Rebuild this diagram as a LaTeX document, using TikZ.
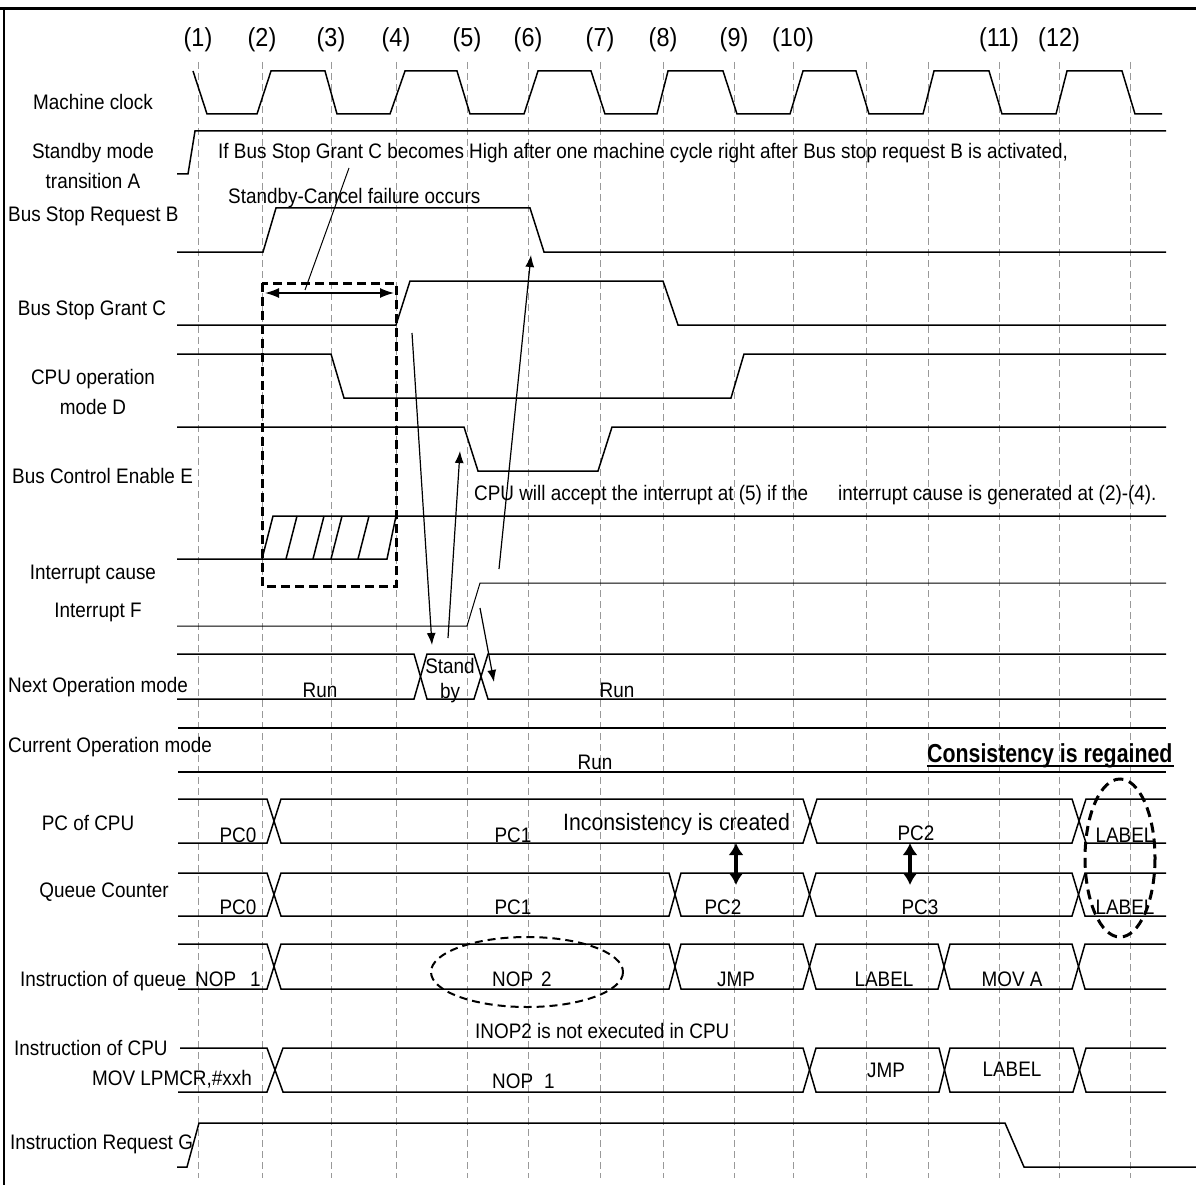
\documentclass[tikz,border=0pt]{standalone}
\usepackage{fontspec}
\setmainfont[FakeStretch=0.9]{Liberation Sans}
\newfontfamily\boldcond[FakeStretch=0.82]{Liberation Sans}
\usetikzlibrary{arrows.meta}
\begin{document}
\begin{tikzpicture}[x=1pt,y=-1pt,
  sig/.style={line width=1.5pt, line join=miter},
  thinsig/.style={line width=1pt},
  gridl/.style={black!40, line width=1pt, dash pattern=on 7pt off 4pt},
  txt/.style={inner sep=0pt, anchor=base, font=\fontsize{21}{24}\selectfont},
  txtw/.style={txt, anchor=base west},
  num/.style={inner sep=0pt, anchor=base, font=\fontsize{26}{28}\selectfont},
  arr/.style={line width=1.2pt, -{Latex[length=12pt,width=9pt]}},
  darr/.style={line width=1.5pt, {Latex[length=14pt,width=10pt]}-{Latex[length=14pt,width=10pt]}},
  thickarr/.style={line width=4pt, {Latex[length=12pt,width=15pt]}-{Latex[length=12pt,width=15pt]}},
  boxd/.style={line width=3pt, dash pattern=on 9pt off 5pt},
  ellthin/.style={line width=2pt, dash pattern=on 8pt off 5pt},
  ellthick/.style={line width=3pt, dash pattern=on 10pt off 6pt}]
\useasboundingbox (0,0) rectangle (1196,1185);
\fill[white] (0,0) rectangle (1196,1185);
% frame
\draw[line width=3pt] (0,9) -- (1196,9);
\draw[line width=2.5pt] (4,9) -- (4,1185);
% grid
\foreach \gx in {198,262,331,396,467,528,600,663,734,793,866,928,999,1059,1130}
  \draw[gridl] (\gx,62) -- (\gx,1178);
% cycle numbers
\foreach \gx/\lab [count=\i] in {198/1,262/2,331/3,396/4,467/5,528/6,600/7,663/8,734/9,793/10,999/11,1059/12}
  \node[num] (n\i) at (\gx,47) {(\lab)};
% labels
\node[txt] (lclk) at (93,110) {Machine clock};
\node[txt] (lsa1) at (93,159) {Standby mode};
\node[txt] (lsa2) at (93,189) {transition A};
\node[txtw] (lbr) at (8,222) {Bus Stop Request B};
\node[txt] (lbg) at (92,315) {Bus Stop Grant C};
\node[txt] (lcpu1) at (93,384) {CPU operation};
\node[txt] (lcpu2) at (93,414) {mode D};
\node[txtw] (lbce) at (12,483) {Bus Control Enable E};
\node[txt] (lic) at (93,579) {Interrupt cause};
\node[txt] (lif) at (98,617) {Interrupt F};
\node[txtw] (lnom) at (8,692) {Next Operation mode};
\node[txtw] (lcom) at (8,752) {Current Operation mode};
\node[txt] (lpc) at (88,830) {PC of CPU};
\node[txt] (lqc) at (104,897) {Queue Counter};
\node[txtw] (liq) at (20,986) {Instruction of queue};
\node[txtw] (lic2) at (14,1055) {Instruction of CPU};
\node[txt, anchor=base east] (lmov) at (252,1085) {MOV LPMCR,\#xxh};
\node[txtw] (lirg) at (10,1149) {Instruction Request G};
% annotations
\node[txtw] (t1) at (218,159) {If Bus Stop Grant C becomes High after one machine cycle right after Bus stop request B is activated,};
\node[txtw] (t2) at (228,204) {Standby-Cancel failure occurs};
\node[txtw] (t3) at (474,500) {CPU will accept the interrupt at (5) if the\hspace{30pt}interrupt cause is generated at (2)-(4).};
\node[txtw] (t4) at (475,1038) {INOP2 is not executed in CPU};
\node[inner sep=0pt, anchor=base west, font=\fontsize{23.6}{26}\selectfont] (t5) at (563,830) {Inconsistency is created};
\node[inner sep=0pt, anchor=base west, font=\boldcond\bfseries\fontsize{26}{28}\selectfont] (t6) at (927,762) {Consistency is regained};
\draw[line width=1.5pt] (927,766) -- (1174,766);
% machine clock
\draw[sig] (193,71)--(207,114)--(257,114)--(271,71)--(325,71)--(337,114)--(390,114)--(405,71)--(457,71)--(470,114)--(524,114)--(538,71)--(591,71)--(605,114)--(657,114)--(668,71)--(723,71)--(737,114)--(790,114)--(803,71)--(856,71)--(869,114)--(923,114)--(934,71)--(989,71)--(1002,114)--(1056,114)--(1067,71)--(1122,71)--(1135,114)--(1162,114);
% standby A
\draw[sig] (177,174)--(188,174)--(195,131)--(1166,131);
% bus stop request B
\draw[sig] (177,252)--(263,252)--(276,208)--(530,208)--(544,252)--(1166,252);
% bus stop grant C
\draw[sig] (177,325)--(396,325)--(410,281)--(663,281)--(678,325)--(1166,325);
% CPU op mode D
\draw[sig] (177,354)--(331,354)--(344,398)--(731,398)--(744,354)--(1166,354);
% Bus control enable E
\draw[sig] (177,427)--(464,427)--(478,471)--(598,471)--(612,427)--(1166,427);
% interrupt cause
\draw[sig] (177,559)--(387,559)--(396,516);
\draw[sig] (262,559)--(273,516)--(1166,516);
\foreach \hx in {286,313,331,358} \draw[sig] (\hx,559)--(\hx+11,516);
% interrupt F
\draw[thinsig] (177,626)--(467,626)--(480,583)--(1166,583);
% next operation mode
\draw[sig] (177,654)--(414,654)--(427,699)--(474,699)--(488,654)--(1166,654);
\draw[sig] (177,699)--(414,699)--(427,654)--(474,654)--(488,699)--(1166,699);
\node[txt] (nrun1) at (320,697) {Run};
\node[txt] (nst1) at (450,673) {Stand};
\node[txt] (nst2) at (450,698) {by};
\node[txt] (nrun2) at (617,697) {Run};
% current operation mode
\draw[sig] (178,728)--(1166,728);
\draw[sig] (178,772)--(1166,772);
\node[txt] (crun) at (595,769) {Run};
% PC of CPU
\draw[sig] (178,799)--(267,799)--(281,843)--(803,843)--(817,799)--(1072,799)--(1086,843)--(1166,843);
\draw[sig] (178,843)--(267,843)--(281,799)--(803,799)--(817,843)--(1072,843)--(1086,799)--(1166,799);
\node[txt] (pc0) at (238,842) {PC0};
\node[txt] (pc1) at (513,842) {PC1};
\node[txt] (pc2) at (916,840) {PC2};
\node[txt] (pcl) at (1125,842) {LABEL};
% Queue counter
\draw[sig] (178,873)--(267,873)--(281,916)--(669,916)--(681,873)--(803,873)--(816,916)--(1072,916)--(1085,873)--(1166,873);
\draw[sig] (178,916)--(267,916)--(281,873)--(669,873)--(681,916)--(803,916)--(816,873)--(1072,873)--(1085,916)--(1166,916);
\node[txt] (qc0) at (238,914) {PC0};
\node[txt] (qc1) at (513,914) {PC1};
\node[txt] (qc2) at (723,914) {PC2};
\node[txt] (qc3) at (920,914) {PC3};
\node[txt] (qcl) at (1125,914) {LABEL};
% instruction of queue
\draw[sig] (178,944)--(267,944)--(281,989)--(669,989)--(681,944)--(803,944)--(816,989)--(938,989)--(950,944)--(1072,944)--(1085,989)--(1166,989);
\draw[sig] (178,989)--(267,989)--(281,944)--(669,944)--(681,989)--(803,989)--(816,944)--(938,944)--(950,989)--(1072,989)--(1085,944)--(1166,944);
\node[txtw] (iq1) at (195,986) {NOP\hspace{14pt}1};
\node[txtw] (iq2) at (492,986) {NOP\hspace{8pt}2};
\node[txt] (iq3) at (736,986) {JMP};
\node[txt] (iq4) at (884,986) {LABEL};
\node[txt] (iq5) at (1012,986) {MOV A};
% instruction of CPU
\draw[sig] (180,1048)--(267,1048)--(283,1092)--(803,1092)--(816,1048)--(939,1048)--(950,1092)--(1073,1092)--(1086,1048)--(1166,1048);
\draw[sig] (178,1092)--(267,1092)--(283,1048)--(803,1048)--(816,1092)--(939,1092)--(950,1048)--(1073,1048)--(1086,1092)--(1166,1092);
\node[txtw] (ic1) at (492,1088) {NOP\hspace{11pt}1};
\node[txt] (ic2) at (886,1077) {JMP};
\node[txt] (ic3) at (1012,1076) {LABEL};
% instruction request G
\draw[sig] (177,1167)--(187,1167)--(199,1123)--(1005,1123)--(1024,1167)--(1196,1167);
% dashed box and ellipses
\draw[boxd] (262,283) rectangle (396,586);
\draw[ellthin] (527,972) ellipse [x radius=96, y radius=35];
\draw[ellthick] (1120,858) ellipse [x radius=35, y radius=79];
% arrows
\coordinate (c1) at (349,168); \coordinate (c2) at (305,290);
\draw[line width=1pt] (c1) -- (c2);
\coordinate (b1) at (265,293); \coordinate (b2) at (394,293);
\draw[darr] (b1) -- (b2);
\coordinate (a1s) at (412,333); \coordinate (a1e) at (432,645);
\draw[arr] (a1s) -- (a1e);
\coordinate (a2s) at (448,638); \coordinate (a2e) at (460,451);
\draw[arr] (a2s) -- (a2e);
\coordinate (a3s) at (499,569); \coordinate (a3e) at (531,255);
\draw[arr] (a3s) -- (a3e);
\coordinate (a4s) at (480,608); \coordinate (a4e) at (494,682);
\draw[arr] (a4s) -- (a4e);
\coordinate (d1s) at (736,843); \coordinate (d1e) at (736,885);
\draw[thickarr] (d1s) -- (d1e);
\coordinate (d2s) at (910,843); \coordinate (d2e) at (910,885);
\draw[thickarr] (d2s) -- (d2e);
\end{tikzpicture}
\end{document}
